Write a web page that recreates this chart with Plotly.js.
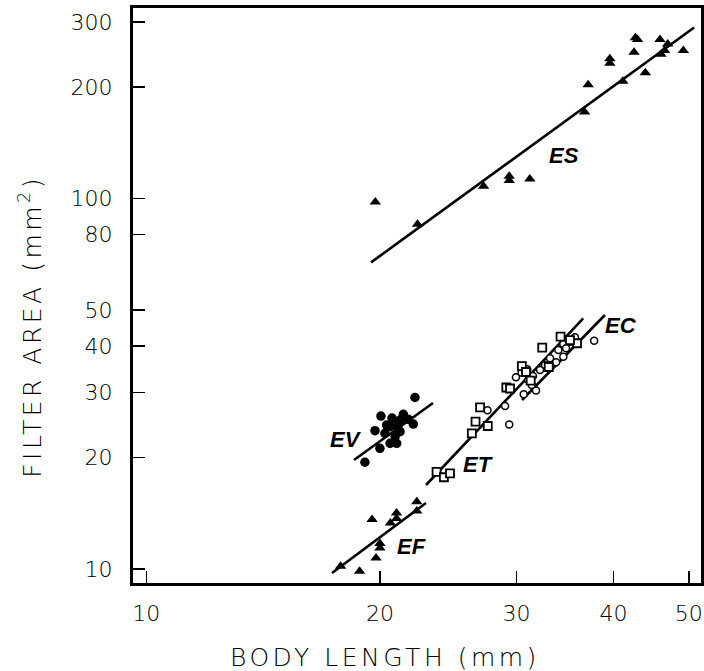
<!DOCTYPE html>
<html>
<head>
<meta charset="utf-8">
<script src="https://cdn.plot.ly/plotly-3.0.1.min.js"></script>
<style>
  html, body { margin: 0; padding: 0; background: #fff; }
  #chart { width: 704px; height: 671px; }
</style>
</head>
<body>
<div id="chart"></div>
<script>
// ---- Data (body length mm, filter area mm^2) ----
const es_len  = [42.67, 42.95, 45.9, 46.97, 42.5, 46.04, 46.53, 49.2, 39.56, 39.56, 43.95, 41.11, 37.1, 36.7, 29.35, 29.35, 31.2, 27.2, 19.73, 22.36];
const es_area = [272.2, 269.3, 269.3, 261.7, 248.6, 245.5, 251.3, 251.3, 238.9, 232.1, 218.9, 207.5, 203.2, 171.4, 114.9, 111.9, 113.1, 108.1, 98.0, 85.3];
const es_fit_len  = [19.48, 50.8];
const es_fit_area = [67.3, 290.0];

const ev_len  = [19.13, 19.71, 20.06, 20.0, 22.19, 20.61, 20.92, 21.23, 21.44, 21.76, 22.08, 21.23, 20.61, 21.02, 20.92, 20.30, 20.40, 20.73, 21.10];
const ev_area = [19.42, 23.63, 25.89, 21.18, 29.05, 24.23, 24.74, 25.25, 26.16, 25.36, 24.63, 23.48, 21.85, 21.85, 22.76, 23.25, 24.48, 25.57, 24.03];
const ev_fit_len  = [18.52, 23.41];
const ev_fit_area = [19.70, 28.07];

const et_len  = [23.66, 24.18, 24.62, 26.27, 26.56, 26.92, 27.54, 29.10, 29.42, 30.47, 31.28, 32.37, 34.18, 35.89, 30.85, 33.00, 35.15];
const et_area = [18.30, 17.69, 18.13, 23.25, 24.99, 27.33, 24.33, 30.91, 30.72, 35.33, 32.28, 39.62, 42.40, 40.70, 34.04, 35.12, 41.52];
const et_fit_len  = [22.93, 36.56];
const et_fit_area = [16.86, 47.54];

const ec_len  = [37.76, 35.67, 35.15, 34.46, 34.74, 33.96, 34.46, 33.73, 33.13, 32.16, 31.78, 30.64, 30.97, 29.94, 30.45, 31.06, 28.99, 27.52, 29.35, 31.38, 32.64, 31.49];
const ec_area = [41.34, 42.24, 41.10, 40.52, 39.45, 39.03, 37.44, 36.15, 37.07, 34.46, 30.34, 29.65, 34.61, 32.94, 33.89, 32.38, 27.55, 26.83, 24.55, 31.41, 35.55, 33.20];
const ec_fit_len  = [30.49, 38.99];
const ec_fit_area = [28.60, 48.52];

const ef_len  = [17.80, 18.83, 19.77, 20.0, 20.0, 19.54, 20.63, 21.01, 21.01, 22.31, 22.31];
const ef_area = [10.18, 9.86, 10.71, 11.39, 11.72, 13.60, 13.31, 14.17, 13.69, 15.19, 14.34];
const ef_fit_len  = [17.35, 22.93];
const ef_fit_area = [9.75, 15.08];

const x_ticks = [10, 20, 30, 40, 50];
const y_ticks = [10, 20, 30, 40, 50, 80, 100, 200, 300];

const group_names = ['ES', 'EC', 'EV', 'ET', 'EF'];
const group_label_len  = [34.53, 40.89, 18.09, 26.76, 21.94];
const group_label_area = [131.2, 45.32, 22.44, 19.10, 11.47];

// ---- Traces ----
const lineStyle = {color: '#000', width: 2.6};
function fitLine(x, y) {
  return {x: x, y: y, type: 'scatter', mode: 'lines', line: lineStyle, hoverinfo: 'skip', showlegend: false};
}
const traces = [
  fitLine(es_fit_len, es_fit_area),
  fitLine(ev_fit_len, ev_fit_area),
  fitLine(et_fit_len, et_fit_area),
  fitLine(ec_fit_len, ec_fit_area),
  fitLine(ef_fit_len, ef_fit_area),
  {x: es_len, y: es_area, type: 'scatter', mode: 'markers', name: 'ES',
   marker: {symbol: 'triangle-up', size: 10, color: '#000'}},
  {x: ef_len, y: ef_area, type: 'scatter', mode: 'markers', name: 'EF',
   marker: {symbol: 'triangle-up', size: 10, color: '#000'}},
  {x: ev_len, y: ev_area, type: 'scatter', mode: 'markers', name: 'EV',
   marker: {symbol: 'circle', size: 9.5, color: '#000'}},
  {x: ec_len, y: ec_area, type: 'scatter', mode: 'markers', name: 'EC',
   marker: {symbol: 'circle', size: 7, color: '#fff', line: {color: '#000', width: 1.5}}},
  {x: et_len, y: et_area, type: 'scatter', mode: 'markers', name: 'ET',
   marker: {symbol: 'square', size: 8, color: '#fff', line: {color: '#000', width: 1.8}}}
];

const tickFont = {family: 'DejaVu Sans', size: 22, color: '#000', weight: 200};
const axisCommon = {
  type: 'log', showgrid: false, zeroline: false,
  showline: true, linewidth: 3, linecolor: '#000', mirror: true,
  ticks: 'inside', ticklen: 12, tickwidth: 1.5, tickcolor: '#000',
  tickfont: tickFont, fixedrange: true
};

const annotations = group_names.map((t, i) => ({
  text: t, xref: 'x', yref: 'y',
  x: Math.log10(group_label_len[i]), y: Math.log10(group_label_area[i]),
  showarrow: false, xanchor: 'center', yanchor: 'middle',
  font: {family: 'Liberation Sans', size: 22, color: '#000', weight: 'bold', style: 'italic'}
}));
annotations.push({
  text: 'BODY LENGTH (mm)', xref: 'paper', yref: 'paper', x: 0.4428, y: -0.1304,
  xanchor: 'center', yanchor: 'middle',
  showarrow: false, font: {family: 'DejaVu Sans', size: 25, color: '#000', weight: 200}
});
annotations.push({
  text: 'FILTER AREA (mm<sup>2</sup>)', xref: 'paper', yref: 'paper', x: -0.1813, y: 0.4452,
  xanchor: 'center', yanchor: 'middle',
  textangle: -90, showarrow: false, font: {family: 'DejaVu Sans', size: 25, color: '#000', weight: 200}
});

const layout = {
  width: 704, height: 671,
  margin: {l: 133, r: 3, t: 8, b: 88},
  paper_bgcolor: '#fff', plot_bgcolor: '#fff',
  showlegend: false,
  xaxis: Object.assign({}, axisCommon, {
    range: [0.9829, 1.7147], tickvals: x_ticks, ticktext: x_ticks.map(String), ticklabelstandoff: 9
  }),
  yaxis: Object.assign({}, axisCommon, {
    range: [0.9622, 2.515], tickvals: y_ticks, ticktext: y_ticks.map(String), ticklabelstandoff: 13
  }),
  annotations: annotations
};

Plotly.newPlot('chart', traces, layout, {staticPlot: true, displayModeBar: false}).then(() => {
  document.querySelectorAll('.annotation-text').forEach(el => {
    const t = el.textContent;
    if (t.indexOf('BODY') === 0 || t.indexOf('FILTER') === 0) {
      el.style.letterSpacing = '3.5px';
    }
  });
});
</script>
</body>
</html>
